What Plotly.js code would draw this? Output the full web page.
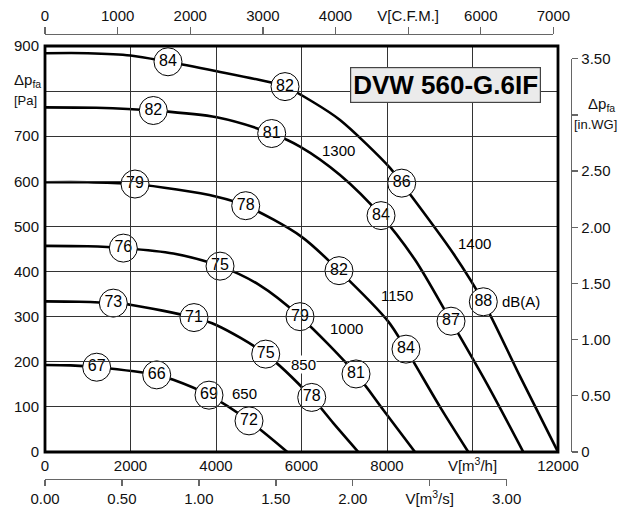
<!DOCTYPE html>
<html>
<head>
<meta charset="utf-8">
<script src="https://cdn.plot.ly/plotly-3.0.1.min.js"></script>
<style>html,body{margin:0;padding:0;background:#fff;}</style>
</head>
<body>
<div id="chart" style="width:621px;height:513px;"></div>
<script>
// ---- data (flow in m3/h, pressure in Pa) ----
const speedNames = ['1400', '1300', '1150', '1000', '850', '650'];
const flow1400 = [0, 1000, 2000, 2877, 4016, 5000, 5614, 6250, 6901, 8070, 8344, 9551, 10253, 11100, 12000];
const pres1400 = [884, 884, 879, 865, 844, 825, 810, 777, 736, 630, 596, 440, 333, 170, 0];
const flow1300 = [0, 1200, 2533, 4016, 5303, 5965, 6901, 7860, 8655, 9497, 10332, 11189];
const pres1300 = [764, 763, 757, 742, 706, 677, 614, 524, 426, 290, 152, 0];
const flow1150 = [0, 1000, 2105, 4016, 4695, 6004, 6877, 8031, 8444, 9240, 9902];
const pres1150 = [598, 598, 594, 566, 546, 477, 402, 289, 228, 100, 0];
const flow1000 = [0, 1000, 1832, 3001, 4094, 5000, 5965, 7275, 7914, 8655];
const pres1000 = [457, 456, 452, 440, 412, 371, 300, 173, 93, 0];
const flow850 = [0, 800, 1598, 2027, 3485, 4016, 5163, 6239, 6744, 7329];
const pres850 = [334, 333, 330, 326, 298, 281, 217, 121, 64, 0];
const flow650 = [0, 600, 1209, 2613, 3001, 3836, 4772, 5668];
const pres650 = [193, 192, 188, 171, 160, 126, 69, 0];

// sound level markers dB(A)
const dbFlow = [2877, 5614, 8344, 10253, 2533, 5303, 7860, 9497, 2105, 4695, 6877, 8444, 1832, 4094, 5965, 7275, 1598, 3485, 5163, 6239, 1209, 2613, 3836, 4772];
const dbPress = [865, 810, 596, 333, 757, 706, 524, 290, 594, 546, 402, 228, 452, 412, 300, 173, 330, 298, 217, 121, 188, 171, 126, 69];
const dbLevel = [84, 82, 86, 88, 82, 81, 84, 87, 79, 78, 82, 84, 76, 75, 79, 81, 73, 71, 75, 78, 67, 66, 69, 72];

// speed labels
const speedLabelText = ['1300', '1400', '1150', '1000', '850', '650', 'dB(A)'];
const speedLabelFlow = [6854, 10058, 8227, 7057, 6058, 4655, 11140];
const speedLabelPress = [669, 463, 348, 274, 193, 130, 333];

// tick labels
const xTickVals = [0, 2000, 4000, 6000, 8000, 10000, 12000];
const xTickText = ['0', '2000', '4000', '6000', '8000', 'V[m<sup>3</sup>/h]', '12000'];
const yTickVals = [0, 100, 200, 300, 400, 500, 600, 700, 800, 900];
const yTickText = ['0', '100', '200', '300', '400', '500', '600', '700', ' ', '900'];
const cfmTickVals = [0, 1000, 2000, 3000, 4000, 5000, 6000, 7000];
const cfmTickText = ['0', '1000', '2000', '3000', '4000', 'V[C.F.M.]', '6000', '7000'];
const m3sTickVals = [0, 0.5, 1.0, 1.5, 2.0, 2.5, 3.0];
const m3sTickText = ['0.00', '0.50', '1.00', '1.50', '2.00', 'V[m<sup>3</sup>/s]', '3.00'];
const inwgTickVals = [0, 0.5, 1.0, 1.5, 2.0, 2.5, 3.0, 3.5];
const inwgTickText = ['0', '0.50', '1.00', '1.50', '2.00', '2.50', ' ', '3.50'];

const titleText = 'DVW 560-G.6IF';

// ---- layout geometry ----
const W = 621, H = 513;
const mL = 45, mR = 50, mT = 34, mB = 34;
const pw = W - mL - mR, ph = H - mT - mB;
const frameL = 45, frameR = 558, frameT = 46, frameB = 452;
const xDomEnd = (frameR - mL) / pw;
const yDom0 = (H - mB - frameB) / ph;
const yDom1 = (H - mB - frameT) / ph;
const PA_PER_INWG = 249.089;
const M3H_PER_CFM = 1.69901;
const xMax = 12000, yMax = 900;
const px = v => (v - mL) / pw;
const py = v => (H - mB - v) / ph;

const FONT = 'Liberation Sans, Arial, sans-serif';
const curves = [
  [flow1400, pres1400], [flow1300, pres1300], [flow1150, pres1150],
  [flow1000, pres1000], [flow850, pres850], [flow650, pres650]
];

const traces = curves.map((c, i) => ({
  x: c[0], y: c[1], type: 'scatter', mode: 'lines', name: speedNames[i],
  line: {color: '#000', width: 2.6, shape: 'spline', smoothing: 0.85},
  hoverinfo: 'skip', showlegend: false, cliponaxis: true
}));

traces.push({
  x: dbFlow, y: dbPress, text: dbLevel.map(String), type: 'scatter', mode: 'markers+text',
  marker: {symbol: 'circle', size: 28, color: '#fff', line: {color: '#000', width: 1}},
  textposition: 'middle center', textfont: {family: FONT, size: 16, color: '#000'},
  hoverinfo: 'skip', showlegend: false, cliponaxis: false
});

// dummy traces to make secondary axes exist
traces.push({x: [null], y: [null], xaxis: 'x', yaxis: 'y2', showlegend: false, hoverinfo: 'skip', mode: 'markers'});
traces.push({x: [null], y: [null], xaxis: 'x2', yaxis: 'y', showlegend: false, hoverinfo: 'skip', mode: 'markers'});
traces.push({x: [null], y: [null], xaxis: 'x3', yaxis: 'y', showlegend: false, hoverinfo: 'skip', mode: 'markers'});

const annotations = speedLabelText.map((t, i) => ({
  x: speedLabelFlow[i], y: speedLabelPress[i], xref: 'x', yref: 'y', text: t, showarrow: false,
  xanchor: 'center', yanchor: 'middle',
  font: {family: FONT, size: 15, color: '#000'},
  bgcolor: t === '850' ? '#fff' : 'rgba(0,0,0,0)', borderpad: 0
}));
annotations.push({
  x: 9368, y: 814, xref: 'x', yref: 'y', text: '<b>' + titleText + '</b>', showarrow: false,
  xanchor: 'center', yanchor: 'middle',
  font: {family: FONT, size: 26, color: '#000'}, bgcolor: '#ebebeb', bordercolor: '#444', borderwidth: 1.2, borderpad: 2
});
const sideLabel = (x, y, text, size, bg) => ({
  x: px(x), y: py(y), xref: 'paper', yref: 'paper', text: text, showarrow: false,
  xanchor: 'center', yanchor: 'middle', font: {family: FONT, size: size, color: '#111'},
  bgcolor: bg || 'rgba(0,0,0,0)', borderpad: 0
});
annotations.push(sideLabel(27, 80, 'Δp<sub>fa</sub>', 15));
annotations.push(sideLabel(25, 100, '[Pa]', 13));
annotations.push(sideLabel(601, 104, 'Δp<sub>fa</sub>', 15));
annotations.push(sideLabel(595, 124, '[in.WG]', 13, '#fff'));

const tickFont = {family: FONT, size: 15, color: '#111'};

const layout = {
  width: W, height: H,
  margin: {l: mL, r: mR, t: mT, b: mB, pad: 0},
  paper_bgcolor: '#fff', plot_bgcolor: 'rgba(0,0,0,0)',
  showlegend: false,
  xaxis: {
    domain: [0, xDomEnd], range: [0, xMax], tickvals: xTickVals, ticktext: xTickText,
    showgrid: true, gridcolor: '#333', gridwidth: 1, zeroline: false, showline: false,
    ticks: '', tickfont: tickFont, ticklabelstandoff: 3, fixedrange: true
  },
  yaxis: {
    domain: [yDom0, yDom1], range: [0, yMax], tickvals: yTickVals, ticktext: yTickText,
    showgrid: true, gridcolor: '#333', gridwidth: 1, zeroline: false, showline: false,
    ticks: '', tickfont: tickFont, ticklabelstandoff: 5, fixedrange: true
  },
  yaxis2: {
    anchor: 'free', position: 1, side: 'right',
    domain: [yDom0, yDom0 + (3.5 * PA_PER_INWG / yMax) * (yDom1 - yDom0)],
    range: [0, 3.5], tickvals: inwgTickVals, ticktext: inwgTickText,
    showgrid: false, zeroline: false, showline: true, linecolor: '#666', linewidth: 1.3,
    ticks: 'outside', ticklen: 6, tickcolor: '#666', tickwidth: 1.3, tickfont: tickFont, fixedrange: true
  },
  xaxis2: {
    anchor: 'free', position: 0, side: 'bottom',
    domain: [0, xDomEnd * (3.0 * 3600 / xMax)], range: [0, 3.0],
    tickvals: m3sTickVals, ticktext: m3sTickText,
    showgrid: false, zeroline: false, showline: true, linecolor: '#666', linewidth: 1.3,
    ticks: 'outside', ticklen: 6, tickcolor: '#666', tickwidth: 1.3, tickfont: tickFont, fixedrange: true
  },
  xaxis3: {
    anchor: 'free', position: 1, side: 'top',
    domain: [0, xDomEnd * (7000 * M3H_PER_CFM / xMax)], range: [0, 7000],
    tickvals: cfmTickVals, ticktext: cfmTickText,
    showgrid: false, zeroline: false, showline: true, linecolor: '#666', linewidth: 1.3,
    ticks: 'outside', ticklen: 7, tickcolor: '#666', tickwidth: 1.3, tickfont: tickFont, fixedrange: true
  },
  shapes: [{
    type: 'rect', xref: 'x domain', yref: 'y domain', x0: 0, x1: 1, y0: 0, y1: 1,
    line: {color: '#000', width: 2.8}, fillcolor: 'rgba(0,0,0,0)', layer: 'above'
  }],
  annotations: annotations
};

Plotly.newPlot('chart', traces, layout, {staticPlot: true, displayModeBar: false});
</script>
</body>
</html>
